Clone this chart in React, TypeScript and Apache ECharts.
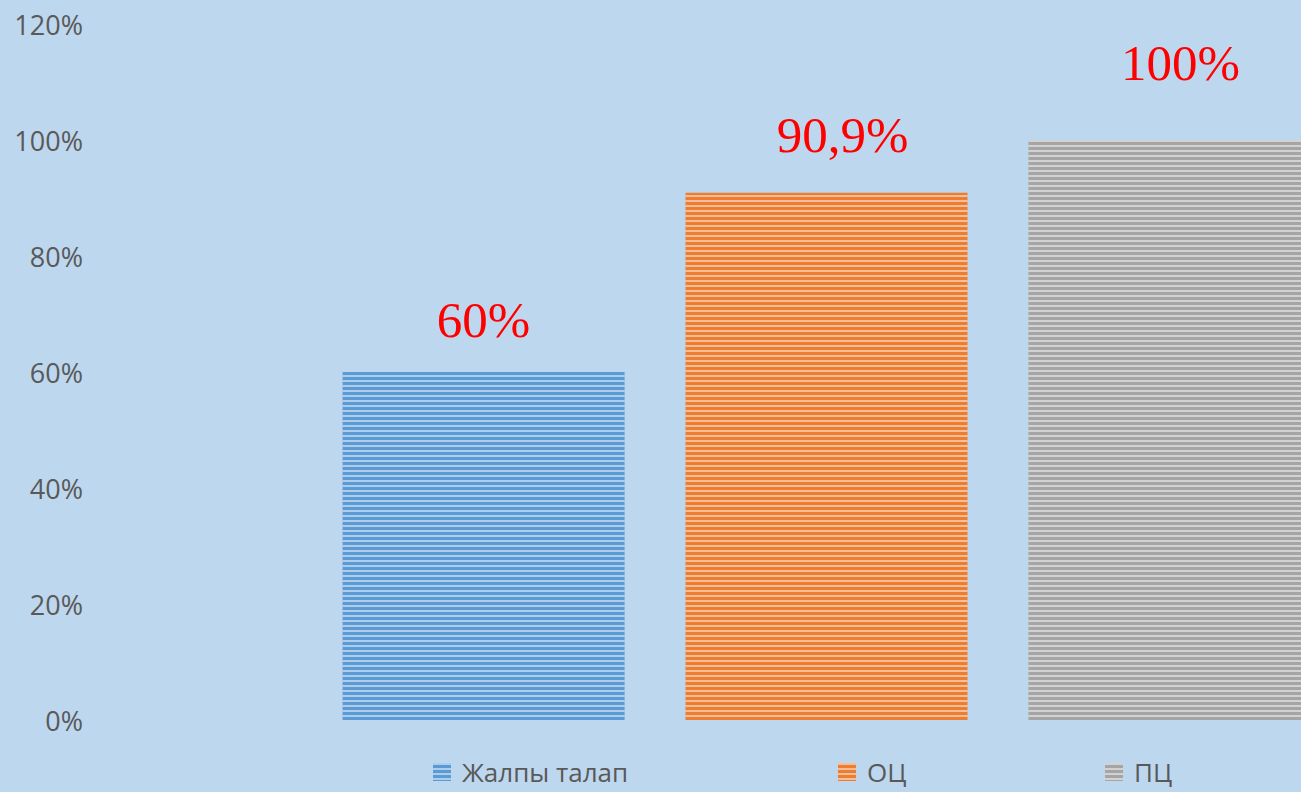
import React, { useEffect, useRef } from "react";
import * as echarts from "echarts";

const categories = [""];
const seriesNames = ["Жалпы талап", "ОЦ", "ПЦ"];
const seriesValues = [0.6, 0.909, 1.0];
const seriesColors = ["#5B9BD5", "#ED7D31", "#A5A5A5"];
const yTicks = { min: 0, max: 1.2, interval: 0.2 };

const labelDistances = [27, 32, 52];
const labelShiftX = [0, 16, 11];
const legendLefts = [433, 838, 1105];

const fmtPct = (v: number) =>
  String(Math.round(v * 1000) / 10).replace(".", ",") + "%";

export default function App() {
  const ref = useRef<HTMLDivElement>(null);
  useEffect(() => {
    if (!ref.current) return;
    const chart = echarts.init(ref.current, undefined, { renderer: "svg" });
    const decal = {
      symbol: "rect",
      symbolSize: 1,
      dashArrayX: [10, 0],
      dashArrayY: [1.5, 2.5],
      rotation: 0,
      color: "rgba(255,255,255,0.5)",
    };
    chart.setOption({
      animation: false,
      backgroundColor: "#BDD7EE",
      grid: { left: 100, right: 0, top: 24, height: 696 },
      xAxis: {
        type: "category",
        data: categories,
        axisLine: { show: false },
        axisTick: { show: false },
        axisLabel: { show: false },
      },
      yAxis: {
        type: "value",
        min: yTicks.min,
        max: yTicks.max,
        interval: yTicks.interval,
        splitLine: { show: false },
        axisLine: { show: false },
        axisTick: { show: false },
        axisLabel: {
          formatter: (v: number) => Math.round(v * 100) + "%",
          color: "#595959",
          fontSize: 27,
          fontFamily: "Open Sans",
          margin: 17,
        },
      },
      legend: seriesNames.map((n, i) => ({
        data: [n],
        left: legendLefts[i],
        top: 759,
        padding: 0,
        itemWidth: 18,
        itemHeight: 18,
        icon: "rect",
        textStyle: {
          color: "#595959",
          fontSize: 26,
          lineHeight: 22,
          fontFamily: "Open Sans",
          padding: [0, 0, 0, 6],
        },
      })),
      series: seriesNames.map((n, i) => ({
        name: n,
        type: "bar",
        barWidth: 282,
        barGap: "21.6%",
        data: [seriesValues[i]],
        itemStyle: { color: seriesColors[i], decal },
        label: {
          show: true,
          position: "top",
          distance: labelDistances[i],
          offset: [labelShiftX[i], 0],
          formatter: (p: any) => fmtPct(p.value),
          color: "#FF0000",
          fontSize: 51,
          fontFamily: "Liberation Serif",
        },
      })),
    });
    return () => chart.dispose();
  }, []);
  return (
    <div
      style={{
        position: "fixed",
        left: 0,
        top: 0,
        width: 1301,
        height: 792,
        overflow: "hidden",
        background: "#BDD7EE",
      }}
    >
      <div ref={ref} style={{ width: 1553, height: 792 }} />
    </div>
  );
}
